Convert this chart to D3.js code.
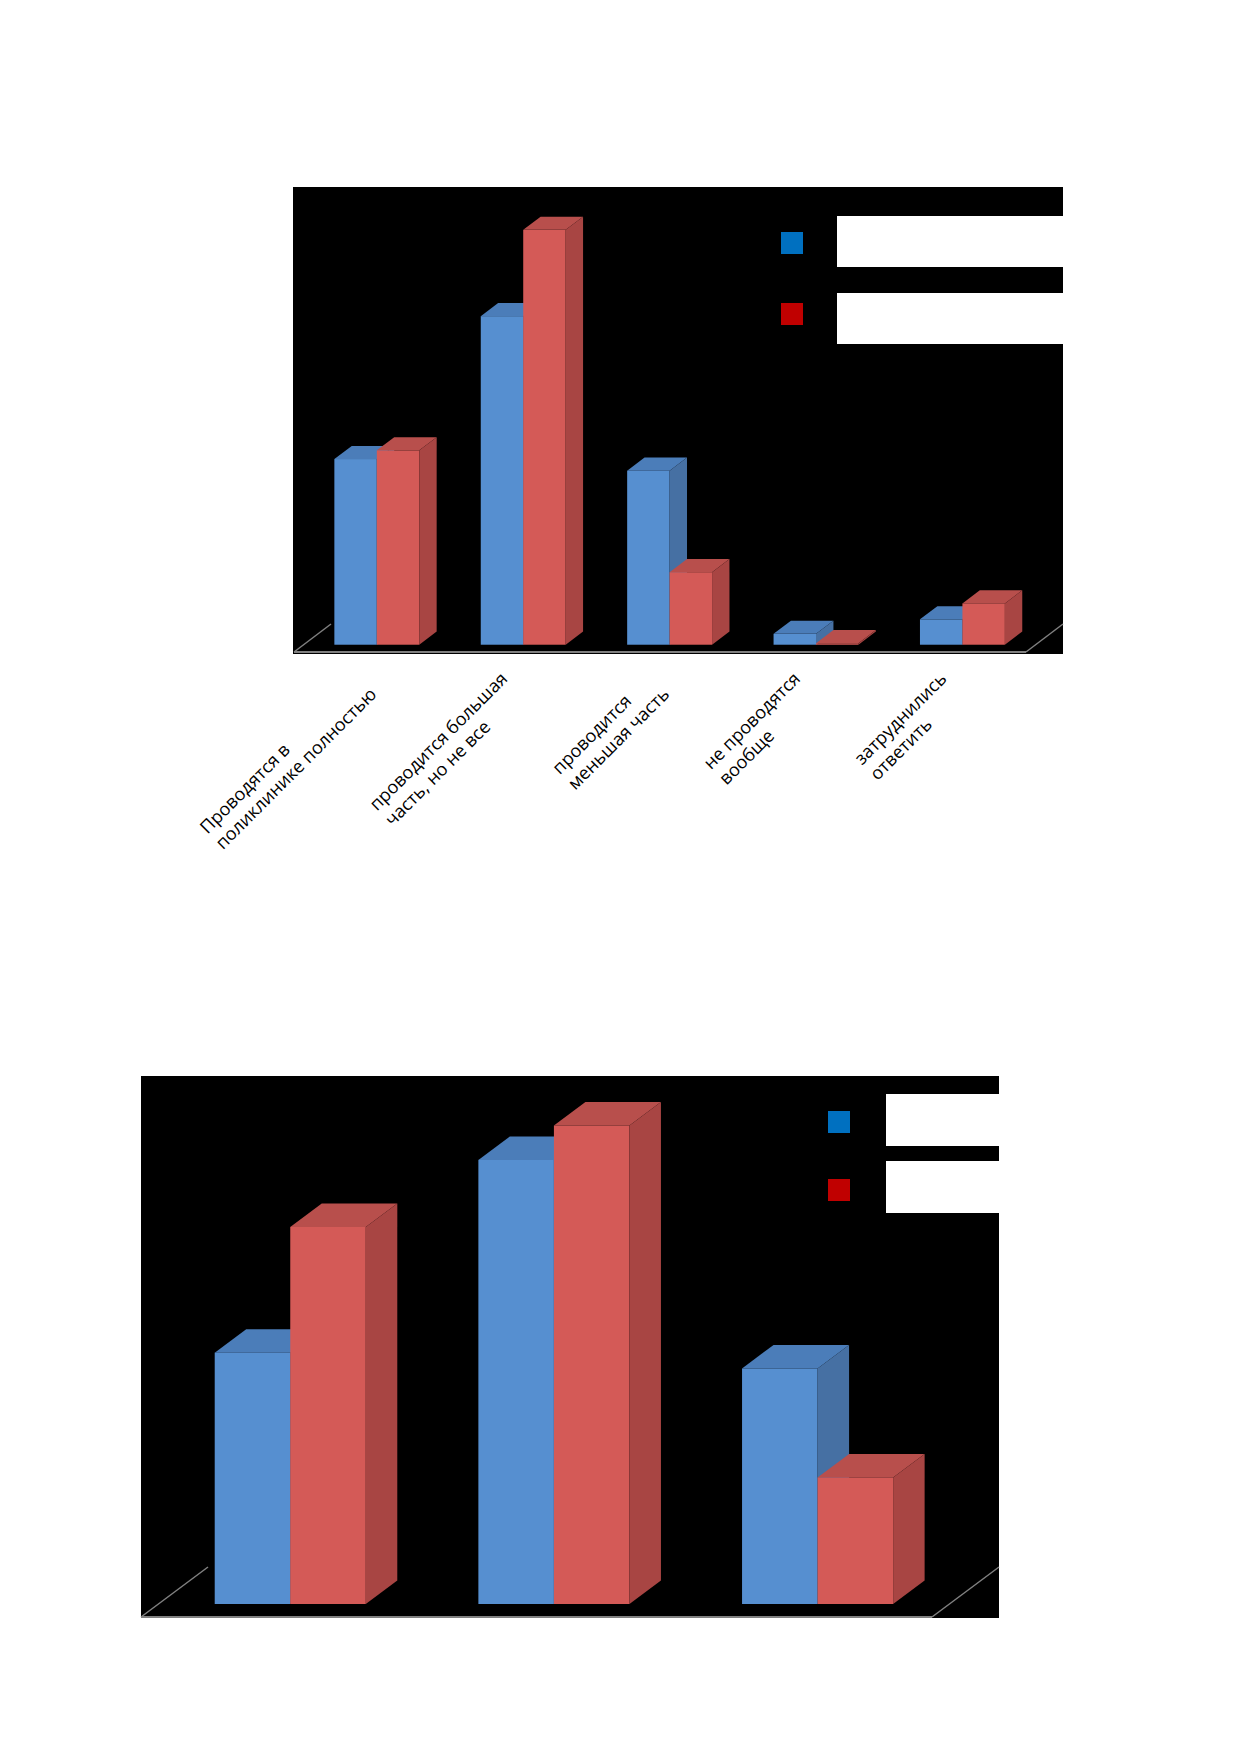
<!DOCTYPE html>
<html>
<head>
<meta charset="utf-8">
<script src="https://cdn.jsdelivr.net/npm/d3@7"></script>
<style>
  html, body { margin: 0; padding: 0; background: #ffffff; }
  svg { display: block; }
</style>
</head>
<body>
<svg id="page" width="1239" height="1752"></svg>
<script>
// ---------- DATA ----------
const series = ["Ряд 1", "Ряд 2"];

const categories1 = [
  "Проводятся в поликлинике полностью",
  "проводится большая часть, но не все",
  "проводится меньшая часть",
  "не проводятся вообще",
  "затруднились ответить"
];
const labelLines1 = [
  ["Проводятся в", "поликлинике полностью"],
  ["проводится большая", "часть, но не все"],
  ["проводится", "меньшая часть"],
  ["не проводятся", "вообще"],
  ["затруднились", "ответить"]
];
const blue1 = [25.6, 45.3, 24.0, 1.5, 3.5];
const red1  = [26.8, 57.2, 10.0, 0.2, 5.7];

const categories2 = ["Категория 1", "Категория 2", "Категория 3"];
const blue2 = [27.0, 47.7, 25.3];
const red2  = [40.5, 51.4, 13.6];

// ---------- STYLE ----------
const colors = {
  blue: { front: "#568fd0", top: "#4b7db9", side: "#4670a3" },
  red:  { front: "#d45a57", top: "#b84f4c", side: "#a84543" },
  legendBlue: "#0070c0",
  legendRed: "#c00000"
};

const svg = d3.select("#page");

function drawChart(cfg) {
  const g = svg.append("g");
  // black chart area
  g.append("rect")
    .attr("x", cfg.box.x0).attr("y", cfg.box.y0)
    .attr("width", cfg.box.x1 - cfg.box.x0)
    .attr("height", cfg.box.y1 - cfg.box.y0)
    .attr("fill", "#000");

  const x = d3.scaleBand()
    .domain(cfg.categories)
    .range([cfg.floor.x0, cfg.floor.x1])
    .paddingInner(0).paddingOuter(0);

  const fdx = cfg.floor.dx, fdy = cfg.floor.dy;
  const frontOff = 0.26, depthFrac = 0.47;
  const ox = fdx * frontOff, oy = fdy * frontOff;
  const bdx = fdx * depthFrac, bdy = fdy * depthFrac;
  const baseY = cfg.floor.y + oy;

  const y = d3.scaleLinear().domain([0, 100]).range([baseY, baseY - 100 * cfg.pxPerUnit]);

  // floor lines
  const lineCol = "#808080";
  g.append("line")
    .attr("x1", cfg.floor.x0).attr("y1", cfg.floor.y)
    .attr("x2", cfg.floor.x1).attr("y2", cfg.floor.y)
    .attr("stroke", lineCol).attr("stroke-width", 2);
  g.append("line")
    .attr("x1", cfg.floor.x0).attr("y1", cfg.floor.y)
    .attr("x2", cfg.floor.x0 + fdx).attr("y2", cfg.floor.y + fdy)
    .attr("stroke", lineCol).attr("stroke-width", 1.5);
  g.append("line")
    .attr("x1", cfg.floor.x1).attr("y1", cfg.floor.y)
    .attr("x2", cfg.floor.x1 + fdx).attr("y2", cfg.floor.y + fdy)
    .attr("stroke", lineCol).attr("stroke-width", 1.5);

  const groupW = x.bandwidth() * cfg.groupFrac;
  const barW = groupW / 2;

  function bar(x0, v, col) {
    const yt = y(v), yb = y(0);
    const x1 = x0 + barW;
    const bg = g.append("g");
    bg.append("rect").attr("x", x0).attr("y", yt).attr("width", barW).attr("height", Math.max(0, yb - yt)).attr("fill", col.front);
    bg.append("path").attr("d", `M${x0},${yt}L${x1},${yt}L${x1 + bdx},${yt + bdy}L${x0 + bdx},${yt + bdy}Z`).attr("fill", col.top);
    bg.append("path").attr("d", `M${x1},${yb}L${x1},${yt}L${x1 + bdx},${yt + bdy}L${x1 + bdx},${yb + bdy}Z`).attr("fill", col.side);
  }

  cfg.categories.forEach((c, i) => {
    const gx = x(c) + x.bandwidth() / 2 + ox - groupW / 2;
    bar(gx, cfg.blue[i], colors.blue);
    bar(gx + barW, cfg.red[i], colors.red);
  });

  // legend
  const L = cfg.legend;
  g.append("rect").attr("x", L.boxX).attr("y", L.box1y).attr("width", cfg.box.x1 - L.boxX).attr("height", L.boxH).attr("fill", "#fff");
  g.append("rect").attr("x", L.boxX).attr("y", L.box2y).attr("width", cfg.box.x1 - L.boxX).attr("height", L.boxH).attr("fill", "#fff");
  g.append("rect").attr("x", L.sqX).attr("y", L.sq1y).attr("width", L.sq).attr("height", L.sq).attr("fill", colors.legendBlue);
  g.append("rect").attr("x", L.sqX).attr("y", L.sq2y).attr("width", L.sq).attr("height", L.sq).attr("fill", colors.legendRed);

  // category labels
  if (cfg.labels) {
    const fs = 18, lh = 22;
    cfg.categories.forEach((c, i) => {
      const ax = x(c) + x.bandwidth() / 2 - 15;
      const ay = cfg.labelY;
      const lg = g.append("g").attr("transform", `translate(${ax},${ay}) rotate(-45)`);
      const texts = cfg.labels[i].map((t, j) =>
        lg.append("text")
          .attr("y", fs * 0.78 + j * lh)
          .attr("font-family", "'Open Sans', 'Noto Sans', sans-serif")
          .attr("font-size", fs)
          .attr("fill", "#000")
          .text(t));
      const maxW = d3.max(texts, t => t.node().getComputedTextLength());
      texts.forEach(t => t.attr("x", -maxW));
    });
  }
}

drawChart({
  categories: categories1,
  labels: labelLines1,
  blue: blue1, red: red1,
  box: { x0: 293, y0: 187, x1: 1063, y1: 654 },
  floor: { x0: 294, x1: 1026, y: 652, dx: 37, dy: -28 },
  pxPerUnit: 7.253,
  groupFrac: 0.58,
  labelY: 670,
  legend: { boxX: 837, box1y: 216, box2y: 293, boxH: 51, sqX: 781, sq1y: 232, sq2y: 303, sq: 22 }
});

drawChart({
  categories: categories2,
  labels: null,
  blue: blue2, red: red2,
  box: { x0: 141, y0: 1076, x1: 999, y1: 1618 },
  floor: { x0: 141, x1: 932, y: 1617, dx: 67, dy: -50 },
  pxPerUnit: 9.31,
  groupFrac: 0.573,
  labelY: 0,
  legend: { boxX: 886, box1y: 1094, box2y: 1161, boxH: 52, sqX: 828, sq1y: 1111, sq2y: 1179, sq: 22 }
});
</script>
</body>
</html>
